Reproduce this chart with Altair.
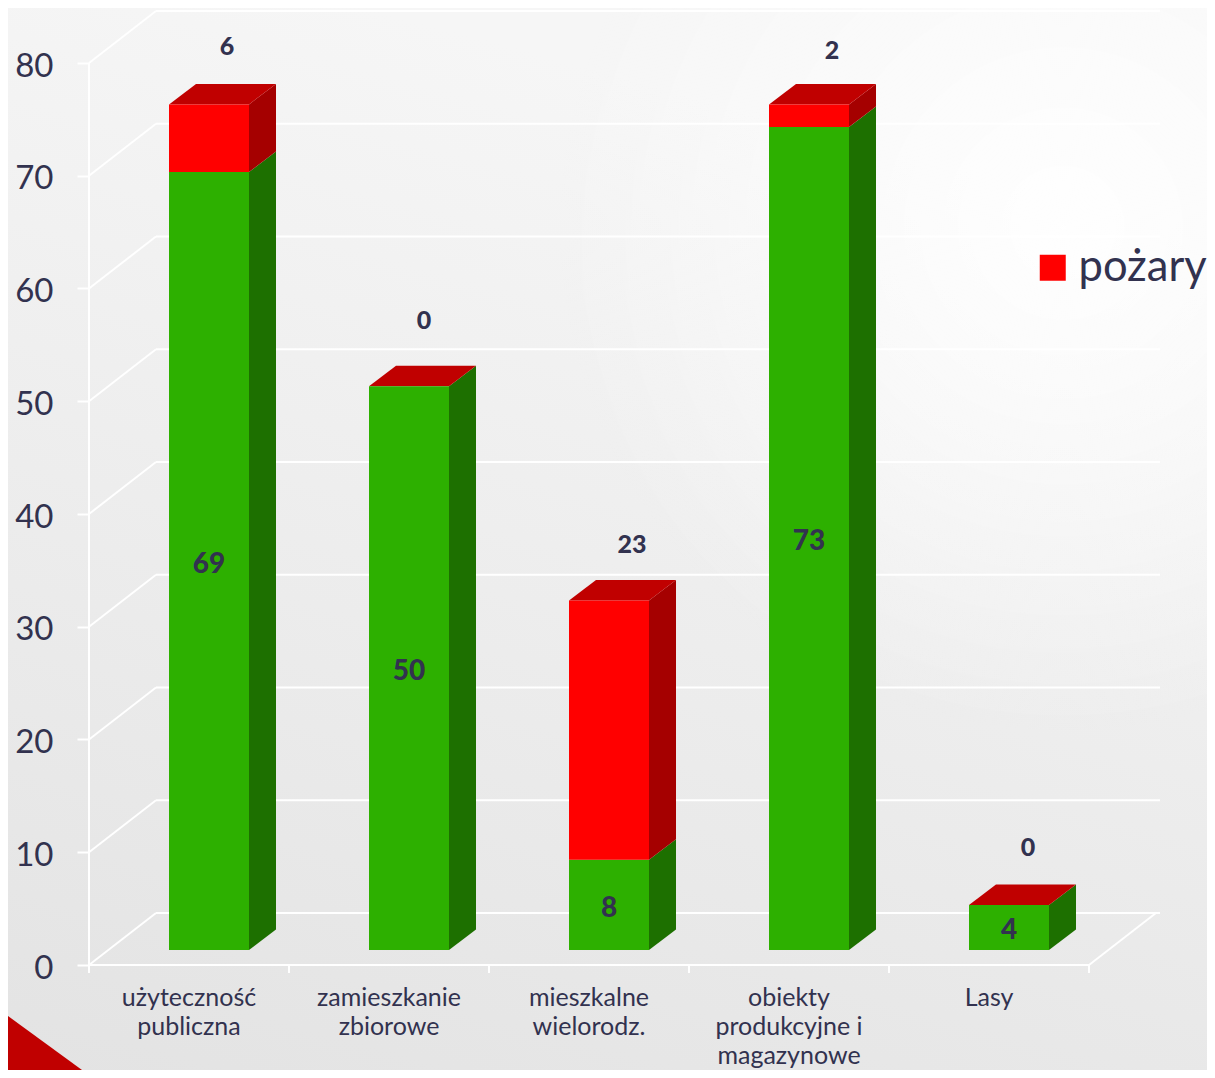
import altair as alt
import pandas as pd

categories = ["użyteczność\npubliczna", "zamieszkanie\nzbiorowe", "mieszkalne\nwielorodz.",
              "obiekty\nprodukcyjne i\nmagazynowe", "Lasy"]
green_values = [69, 50, 8, 73, 4]
fire_values = [6, 0, 23, 2, 0]
y_ticks = [0, 10, 20, 30, 40, 50, 60, 70, 80]
legend_name = "pożary"
green_name = "pozostałe"

# calibration of the drawing (pixels per data unit)
PX_X = 200.0
PX_Y = 11.275
W, H = 1199, 1062
X0, Y0 = 89 - 8, 965 - 8           # px of (0,0) inside plot
def ux(px): return px / PX_X
def uy(px): return px / PX_Y
x_domain = [-X0 / PX_X, (W - X0) / PX_X]
y_domain = [-(H - Y0) / PX_Y, Y0 / PX_Y]

TXT = "#32324f"
WHITE = "#ffffff"
x_s = alt.Scale(domain=x_domain, nice=False, zero=False)
y_s = alt.Scale(domain=y_domain, nice=False, zero=False)
y_axis_def = alt.Axis(
    values=y_ticks, offset=-X0, domain=False, grid=False, ticks=True, tickColor=WHITE, tickWidth=2,
    tickSize=12, labelFont="Lato", labelFontSize=33, labelColor=TXT, labelPadding=24, title=None,
    labelOverlap=False, format="d", zindex=1, labelOffset=3)
X = lambda f="x": alt.X(f"{f}:Q", scale=x_s, axis=None)
Y = lambda f="y": alt.Y(f"{f}:Q", scale=y_s, axis=y_axis_def)

BAR_L, BAR_W = ux(80), ux(80)
SHIFT = uy(15)                     # front plane of bars above the axis plane
DX, DY = ux(27), uy(20.5)          # bar depth
FX, FY = ux(67), uy(52)            # floor depth

# background: soft slanted shading plus a white glow on the right
frame = pd.DataFrame({"a": [x_domain[0]], "b": [x_domain[1]], "c": [y_domain[0]], "d": [y_domain[1]]})
bg = alt.Chart(frame).mark_rect(
    color=alt.Gradient(gradient="linear", x1=0.3, y1=0, x2=0, y2=1,
                       stops=[alt.GradientStop(color="#f6f6f6", offset=0),
                              alt.GradientStop(color="#e3e3e3", offset=1)])
).encode(x=X("a"), x2="b", y=Y("c"), y2="d")
glow = alt.Chart(frame).mark_rect(
    color=alt.Gradient(gradient="radial", x1=0.88, y1=0.24, r1=0, x2=0.88, y2=0.24, r2=0.42,
                       stops=[alt.GradientStop(color="rgba(255,255,255,0.95)", offset=0),
                              alt.GradientStop(color="rgba(255,255,255,0)", offset=1)])
).encode(x=X("a"), x2="b", y=Y("c"), y2="d")

# corner triangle
tri = alt.Chart(pd.DataFrame({"x": [x_domain[0], ux(82 - 89)], "y": [uy(965 - 1010 - 6), y_domain[0]], "y0": [y_domain[0]] * 2})).mark_area(
    color="#c00000").encode(x=X(), y=Y(), y2="y0")

# walls and floor
rows = []
n = len(categories)
for v in y_ticks:
    rows.append(dict(x=0, x2=FX, y=v, y2=v + FY))
    rows.append(dict(x=FX, x2=ux(1160 - 89), y=v + FY, y2=v + FY))
rows.append(dict(x=0, x2=0, y=0, y2=80))
rows.append(dict(x=0, x2=n, y=0, y2=0))
rows.append(dict(x=n, x2=n + FX, y=0, y2=FY))
for i in range(n + 1):
    rows.append(dict(x=i, x2=i, y=0, y2=-uy(8)))
walls = alt.Chart(pd.DataFrame(rows)).mark_rule(color=WHITE, strokeWidth=2).encode(
    x=X(), x2="x2", y=Y(), y2="y2")

# bar faces
front, side, top = [], [], []
for i in range(n):
    l = i + BAR_L
    r = l + BAR_W
    g, f = green_values[i], fire_values[i]
    front.append(dict(x=l, x2=r, y=SHIFT, y2=SHIFT + g, s=green_name))
    if f:
        front.append(dict(x=l, x2=r, y=SHIFT + g, y2=SHIFT + g + f, s=legend_name))
    for j, (a, b, c) in enumerate([(0, g, "#1d7000"), (g, g + f, "#a50000")]):
        if b > a:
            side.append(dict(id=f"{i}-{j}", x=r, y=SHIFT + a, y2=SHIFT + b, c=c))
            side.append(dict(id=f"{i}-{j}", x=r + DX, y=SHIFT + a + DY, y2=SHIFT + b + DY, c=c))
    t = SHIFT + g + f
    top.append(dict(id=i, y=t, x=l, x2=r))
    top.append(dict(id=i, y=t + DY, x=l + DX, x2=r + DX))

color_scale = alt.Scale(domain=[green_name, legend_name], range=["#2db000", "#ff0000"])
front_l = alt.Chart(pd.DataFrame(front)).mark_rect().encode(
    x=X(), x2="x2", y=Y(), y2="y2",
    color=alt.Color("s:N", scale=color_scale, legend=alt.Legend(
        values=[legend_name], orient="none", legendX=1023, legendY=238, title=None,
        symbolType="square", symbolSize=676, symbolStrokeWidth=0,
        labelFont="Lato", labelFontSize=43.5, labelColor=TXT, labelOffset=4)))
side_l = alt.Chart(pd.DataFrame(side)).mark_area().encode(
    x=X(), y=Y(), y2="y2", detail="id:N", color=alt.Color("c:N", scale=None))
top_l = alt.Chart(pd.DataFrame(top)).mark_area(orient="horizontal", color="#c00000").encode(
    y=Y(), x=X(), x2="x2", detail="id:N")

# value labels
inner = pd.DataFrame({"x": [i + BAR_L + BAR_W / 2 for i in range(n)],
                      "y": [SHIFT + v / 2 for v in green_values],
                      "t": [str(v) for v in green_values]})
inner_l = alt.Chart(inner).mark_text(font="Lato", fontWeight=900, fontSize=28, color=TXT, dy=4).encode(
    x=X(), y=Y(), text="t:N")

lift = [58, 66, 56, 54, 58]
nudge = [18, 15, 23, 23, 19]
upper = pd.DataFrame({"x": [i + BAR_L + BAR_W / 2 + ux(nudge[i]) for i in range(n)],
                      "y": [SHIFT + green_values[i] + fire_values[i] + uy(lift[i]) for i in range(n)],
                      "t": [str(v) for v in fire_values]})
upper_l = alt.Chart(upper).mark_text(font="Lato", fontWeight=900, fontSize=25, color=TXT, dy=1).encode(
    x=X(), y=Y(), text="t:N")

cat = pd.DataFrame({"x": [i + 0.5 for i in range(n)], "y": [-uy(20.5)] * n,
                    "t": [c.split("\n") for c in categories]})
cat_l = alt.Chart(cat).mark_text(font="Lato", fontSize=25, color=TXT, lineHeight=29, baseline="top").encode(
    x=X(), y=Y(), text="t")

chart = alt.layer(bg, glow, tri, walls, side_l, top_l, front_l, inner_l, upper_l, cat_l).resolve_scale(
    color="independent"
).properties(
    width=W, height=H, padding=0, autosize=alt.AutoSizeParams(type="none"),
    background="#f0f0f0"
).configure_view(stroke=None)

chart.save("out.html", embed_options={"renderer": "svg", "actions": False})
